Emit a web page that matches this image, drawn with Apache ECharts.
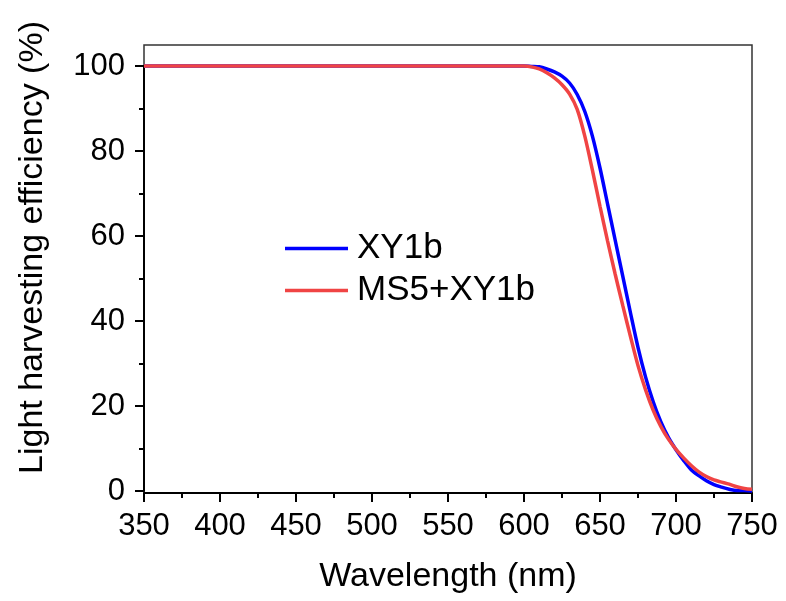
<!DOCTYPE html>
<html>
<head>
<meta charset="utf-8">
<script src="https://cdn.jsdelivr.net/npm/echarts@6/dist/echarts.min.js"></script>
<style>
html,body{margin:0;padding:0;background:#fff;}
#c{width:786px;height:601px;}
</style>
</head>
<body>
<div id="c"></div>
<script>
const wavelength = [350,400,450,500,550,580,590,600,605,610,615,620,625,630,635,640,645,650,655,660,665,670,675,680,685,690,695,700,705,710,715,720,725,730,735,740,745,750];
const xy1b = [100,100,100,100,100,100,100,100,99.9,99.8,99.3,98.6,97.6,96.0,93.3,89.3,83.5,76.0,67.5,59.0,50.5,42.0,33.8,26.8,21.0,16.3,12.6,9.7,7.2,5.0,3.6,2.4,1.5,0.9,0.4,0.1,0.1,0.0];
const ms5xy1b = [100,100,100,100,100,100,100,100,99.8,99.3,98.4,97.2,95.6,93.4,89.8,83.5,75.5,67.0,58.8,51.0,43.6,36.4,29.5,23.8,19.0,15.2,12.2,9.8,7.8,6.0,4.5,3.4,2.6,2.1,1.6,1.0,0.6,0.4];
const seriesNames = ['XY1b','MS5+XY1b'];
const seriesColors = ['#0000ff','#f04444'];
const xTitle = 'Wavelength (nm)';
const yTitle = 'Light harvesting efficiency (%)';

const FONT = 'Liberation Sans, Arial, sans-serif';
const chart = echarts.init(document.getElementById('c'), null, {renderer:'canvas'});
const pair = (xs, ys) => xs.map((x,i)=>[x, ys[i]]);

chart.setOption({
  animation:false,
  backgroundColor:'#fff',
  grid:[
    {left:144, right:34, top:45, bottom:108, show:true, borderColor:'#333', borderWidth:1.5, containLabel:false},
    {left:144, right:34, top:66, bottom:110, containLabel:false}
  ],
  legend:{
    orient:'vertical', left:285, top:231, padding:0, icon:'rect', itemWidth:63, itemHeight:3.5, itemGap:7,
    data:seriesNames,
    textStyle:{fontFamily:FONT, fontSize:35, color:'#000', lineHeight:35, padding:[0,0,0,4]}
  },
  xAxis:[
    {gridIndex:0, type:'value', min:350, max:750, interval:50,
     name:xTitle, nameLocation:'middle', nameGap:67,
     nameTextStyle:{fontFamily:FONT, fontSize:34, color:'#000'},
     axisLine:{show:true, onZero:false, lineStyle:{color:'#000', width:2}},
     axisTick:{show:true, inside:false, length:9, lineStyle:{color:'#000', width:2}},
     minorTick:{show:true, splitNumber:2, length:5, lineStyle:{color:'#000', width:2}},
     axisLabel:{fontFamily:FONT, fontSize:31, color:'#000', margin:18},
     splitLine:{show:false}},
    {gridIndex:1, type:'value', min:350, max:750, show:false}
  ],
  yAxis:[
    {gridIndex:0, type:'value', min:0, max:1, show:false},
    {gridIndex:1, type:'value', min:0, max:100, interval:20,
     name:yTitle, nameLocation:'middle', nameGap:94,
     nameTextStyle:{fontFamily:FONT, fontSize:34, color:'#000', padding:[0,0,0,62]},
     axisLine:{show:true, onZero:false, lineStyle:{color:'#000', width:2}},
     axisTick:{show:true, inside:false, length:9, lineStyle:{color:'#000', width:2}},
     minorTick:{show:true, splitNumber:2, length:5, lineStyle:{color:'#000', width:2}},
     axisLabel:{fontFamily:FONT, fontSize:31, color:'#000', margin:19},
     splitLine:{show:false}}
  ],
  series:[
    {name:seriesNames[0], type:'line', xAxisIndex:1, yAxisIndex:1, data:pair(wavelength, xy1b),
     symbol:'none', smooth:0.3, clip:false, color:seriesColors[0], lineStyle:{width:3.5, color:seriesColors[0]}},
    {name:seriesNames[1], type:'line', xAxisIndex:1, yAxisIndex:1, data:pair(wavelength, ms5xy1b),
     symbol:'none', smooth:0.3, clip:false, color:seriesColors[1], lineStyle:{width:3.5, color:seriesColors[1]}}
  ]
});
</script>
</body>
</html>
